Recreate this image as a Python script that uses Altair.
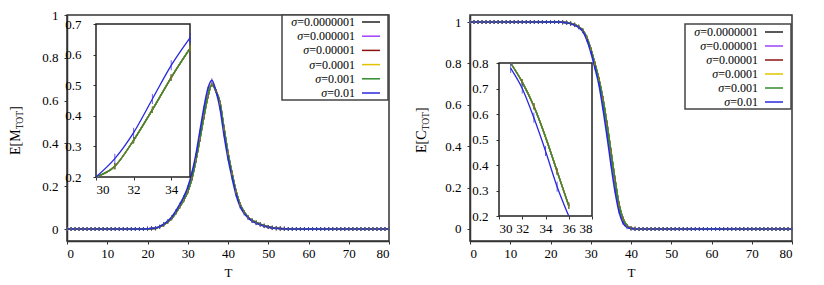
import altair as alt
import pandas as pd

# ---------------- data ----------------
T = list(range(81))

M_base = [0.0, 0.0, 0.0, 0.0, 0.0, 0.0, 0.0, 0.0, 0.0, 0.0,
          0.0, 0.0, 0.0, 0.0, 0.0, 0.0, 0.0, 0.0, 0.0, 0.0,
          0.001, 0.002, 0.004, 0.010, 0.020, 0.033, 0.050, 0.075, 0.105, 0.135,
          0.175, 0.235, 0.320, 0.420, 0.525, 0.620, 0.675, 0.645, 0.590, 0.470,
          0.355, 0.260, 0.175, 0.115, 0.080, 0.055, 0.040, 0.030, 0.022, 0.015,
          0.010, 0.006, 0.004, 0.002, 0.001, 0.0, 0.0, 0.0, 0.0, 0.0,
          0.0, 0.0, 0.0, 0.0, 0.0, 0.0, 0.0, 0.0, 0.0, 0.0,
          0.0, 0.0, 0.0, 0.0, 0.0, 0.0, 0.0, 0.0, 0.0, 0.0, 0.0]

M_blue = [0.0, 0.0, 0.0, 0.0, 0.0, 0.0, 0.0, 0.0, 0.0, 0.0,
          0.0, 0.0, 0.0, 0.0, 0.0, 0.0, 0.0, 0.0, 0.0, 0.0,
          0.001, 0.003, 0.005, 0.012, 0.023, 0.037, 0.056, 0.083, 0.115, 0.150,
          0.195, 0.260, 0.345, 0.455, 0.565, 0.655, 0.695, 0.645, 0.565, 0.440,
          0.330, 0.240, 0.160, 0.105, 0.073, 0.052, 0.037, 0.027, 0.020, 0.013,
          0.009, 0.005, 0.003, 0.002, 0.001, 0.0, 0.0, 0.0, 0.0, 0.0,
          0.0, 0.0, 0.0, 0.0, 0.0, 0.0, 0.0, 0.0, 0.0, 0.0,
          0.0, 0.0, 0.0, 0.0, 0.0, 0.0, 0.0, 0.0, 0.0, 0.0, 0.0]

C_base = [1.0, 1.0, 1.0, 1.0, 1.0, 1.0, 1.0, 1.0, 1.0, 1.0,
          1.0, 1.0, 1.0, 1.0, 1.0, 1.0, 1.0, 1.0, 1.0, 1.0,
          1.0, 1.0, 1.0, 0.999, 0.997, 0.993, 0.987, 0.977, 0.960, 0.925,
          0.870, 0.800, 0.725, 0.630, 0.510, 0.375, 0.240, 0.120, 0.050, 0.015,
          0.004, 0.001, 0.0, 0.0, 0.0, 0.0, 0.0, 0.0, 0.0, 0.0,
          0.0, 0.0, 0.0, 0.0, 0.0, 0.0, 0.0, 0.0, 0.0, 0.0,
          0.0, 0.0, 0.0, 0.0, 0.0, 0.0, 0.0, 0.0, 0.0, 0.0,
          0.0, 0.0, 0.0, 0.0, 0.0, 0.0, 0.0, 0.0, 0.0, 0.0, 0.0]

C_blue = [1.0, 1.0, 1.0, 1.0, 1.0, 1.0, 1.0, 1.0, 1.0, 1.0,
          1.0, 1.0, 1.0, 1.0, 1.0, 1.0, 1.0, 1.0, 1.0, 1.0,
          1.0, 1.0, 1.0, 0.999, 0.996, 0.992, 0.985, 0.974, 0.955, 0.915,
          0.855, 0.780, 0.700, 0.585, 0.455, 0.315, 0.185, 0.085, 0.030, 0.008,
          0.002, 0.0, 0.0, 0.0, 0.0, 0.0, 0.0, 0.0, 0.0, 0.0,
          0.0, 0.0, 0.0, 0.0, 0.0, 0.0, 0.0, 0.0, 0.0, 0.0,
          0.0, 0.0, 0.0, 0.0, 0.0, 0.0, 0.0, 0.0, 0.0, 0.0,
          0.0, 0.0, 0.0, 0.0, 0.0, 0.0, 0.0, 0.0, 0.0, 0.0, 0.0]

sigma_labels = ["σ=0.0000001", "σ=0.000001", "σ=0.00001",
                "σ=0.0001", "σ=0.001", "σ=0.01"]
series_colors = ["#222222", "#a040ff", "#8b1010", "#e0c400", "#2e8b2e", "#2828e0"]

x_ticks = [0, 10, 20, 30, 40, 50, 60, 70, 80]
y_ticks = [0, 0.2, 0.4, 0.6, 0.8, 1]
insetM_xticks = [30, 32, 34]
insetM_yticks = [0.2, 0.3, 0.4, 0.5, 0.6, 0.7]
insetC_xticks = [30, 32, 34, 36, 38]
insetC_yticks = [0.2, 0.3, 0.4, 0.5, 0.6, 0.7, 0.8]

FONT = "Liberation Serif"
W, H = 322, 226


def build_df(base, blue):
    rows = []
    for k, lab in enumerate(sigma_labels):
        vals = blue if k == len(sigma_labels) - 1 else base
        for t, v in zip(T, vals):
            rows.append({"T": t, "v": v, "s": lab, "k": k})
    return pd.DataFrame(rows)


cscale = alt.Scale(domain=sigma_labels, range=series_colors)


def panel(df, ydom, letter, title_x, title_y, inset, legend_top, legend_rows):
    base = alt.Chart(df)
    mx = alt.X("T:Q", scale=alt.Scale(domain=[0, 80], nice=False, zero=False),
               axis=alt.Axis(values=x_ticks, title="T", orient="bottom",
                             tickSize=3, labelPadding=3, titlePadding=6))
    my = alt.Y("v:Q", scale=alt.Scale(domain=ydom, nice=False, zero=False),
               axis=alt.Axis(values=y_ticks, format="~g", title=None, orient="left",
                             tickSize=3, labelPadding=6))
    col = alt.Color("s:N", scale=cscale, legend=None)

    lines = base.mark_line(interpolate="monotone", strokeWidth=1.6).encode(x=mx, y=my, color=col)
    ticks = base.mark_tick(orient="vertical", size=4, thickness=1).encode(x=mx, y=my, color=col)

    one = alt.Chart(pd.DataFrame({"a": [0]}))
    t1 = one.mark_text(angle=270, align="left", baseline="middle", font=FONT,
                       fontSize=14, color="black").encode(
        x=alt.value(title_x), y=alt.value(title_y), text=alt.value("E[" + letter))
    w1 = (0.611 + 0.333 + (0.889 if letter == "M" else 0.667)) * 14
    t2 = one.mark_text(angle=270, align="left", baseline="middle", font=FONT,
                       fontSize=9.5, color="black").encode(
        x=alt.value(title_x + 3.5), y=alt.value(title_y - w1), text=alt.value("TOT"))
    t3 = one.mark_text(angle=270, align="left", baseline="middle", font=FONT,
                       fontSize=14, color="black").encode(
        x=alt.value(title_x), y=alt.value(title_y - w1 - 18.5), text=alt.value("]"))

    main = alt.layer(lines, ticks, t1, t2, t3)

    # ---- inset ----
    (xd, xr, yd, yr, xt, yt, lpad, trange) = inset
    ix = alt.X("T:Q", scale=alt.Scale(domain=xd, range=xr, nice=False, zero=False),
               axis=alt.Axis(values=xt, title=None, orient="bottom", offset=-(H - yr[0]),
                             domain=False, tickSize=3, labelPadding=3))
    iy = alt.Y("v:Q", scale=alt.Scale(domain=yd, range=yr, nice=False, zero=False, clamp=True),
               axis=alt.Axis(values=yt, format="~g", title=None, orient="left", offset=-xr[0],
                             domain=False, tickSize=3, labelPadding=lpad))
    ibox = one.mark_rect(fill="white", stroke="#222222", strokeWidth=1.5).encode(
        x=alt.value(xr[0]), x2=alt.value(xr[1]), y=alt.value(yr[1]), y2=alt.value(yr[0]))
    idata = base.transform_filter(
        (alt.datum.T >= trange[0]) & (alt.datum.T <= trange[1]))
    ilines = idata.mark_line(interpolate="monotone", strokeWidth=1.3).encode(x=ix, y=iy, color=col)
    itick_o = idata.transform_filter(
        (alt.datum.k < 5) & (alt.datum.v > yd[0]) & (alt.datum.v < yd[1])).mark_tick(
        orient="vertical", size=6, thickness=1).encode(x=ix, y=iy, color=col)
    itick_b = idata.transform_filter(
        (alt.datum.k == 5) & (alt.datum.v > yd[0]) & (alt.datum.v < yd[1])).mark_tick(
        orient="vertical", size=10, thickness=1).encode(x=ix, y=iy, color=col)
    inset_layer = alt.layer(ibox, ilines, itick_o, itick_b)

    # ---- legend (σ italic, rest upright, right aligned before the line sample) ----
    LX = 288
    ldf = alt.Chart(pd.DataFrame({"s": sigma_labels})).transform_calculate(
        rest="substring(datum.s, 1)"
    ).transform_calculate(
        px=f"{LX} - (9.8 + 6 * (length(datum.rest) - 2))"
    )
    ly = alt.Y("s:N", scale=alt.Scale(type="point", domain=sigma_labels,
                                      range=legend_rows, padding=0), axis=None)
    lbox = one.mark_rect(fill="white", stroke="#444444", strokeWidth=1.5).encode(
        x=alt.value(215), x2=alt.value(321), y=alt.value(legend_top[0]), y2=alt.value(legend_top[1]))
    ltext = ldf.mark_text(align="right", baseline="middle", font=FONT, fontSize=12,
                          color="black").encode(x=alt.value(LX), y=ly, text="rest:N")
    lsig = ldf.mark_text(align="right", baseline="middle", font=FONT, fontSize=12,
                         fontStyle="italic", color="black").encode(
        x=alt.X("px:Q", scale=None), y=ly, text=alt.value("σ"))
    lrule = ldf.mark_rule(strokeWidth=1.5).encode(
        x=alt.value(295), x2=alt.value(313), y=ly, color=col)
    legend = alt.layer(lbox, ltext, lsig, lrule)

    return alt.layer(main, inset_layer, legend).resolve_scale(
        x="independent", y="independent").properties(width=W, height=H)


dfM = build_df(M_base, M_blue)
dfC = build_df(C_base, C_blue)

left = panel(dfM, [-0.056, 1.0], "M", -51, 140,
             ([30, 35], [29, 123], [0.2, 0.7], [162, 9], insetM_xticks, insetM_yticks, 12, [30, 35]),
             (0, 85), [7, 78])
right = panel(dfC, [-0.058, 1.034], "C", -48, 138,
              ([30, 38], [29, 122], [0.2, 0.8], [201, 48], insetC_xticks, insetC_yticks, 8, [31, 36]),
              (9, 94), [17, 87])

chart = alt.hconcat(left, right, spacing=21).properties(
    padding=0, background="white"
).configure_view(
    stroke="#333333", strokeWidth=1.5
).configure_axis(
    labelFont=FONT, labelFontSize=13, labelColor="black",
    titleFont=FONT, titleFontSize=13, titleFontWeight="normal", titleColor="black",
    grid=False, tickColor="#333333", domainColor="#333333", domainWidth=1.5
)

chart.save("out.html", embed_options={"renderer": "svg", "actions": False})
